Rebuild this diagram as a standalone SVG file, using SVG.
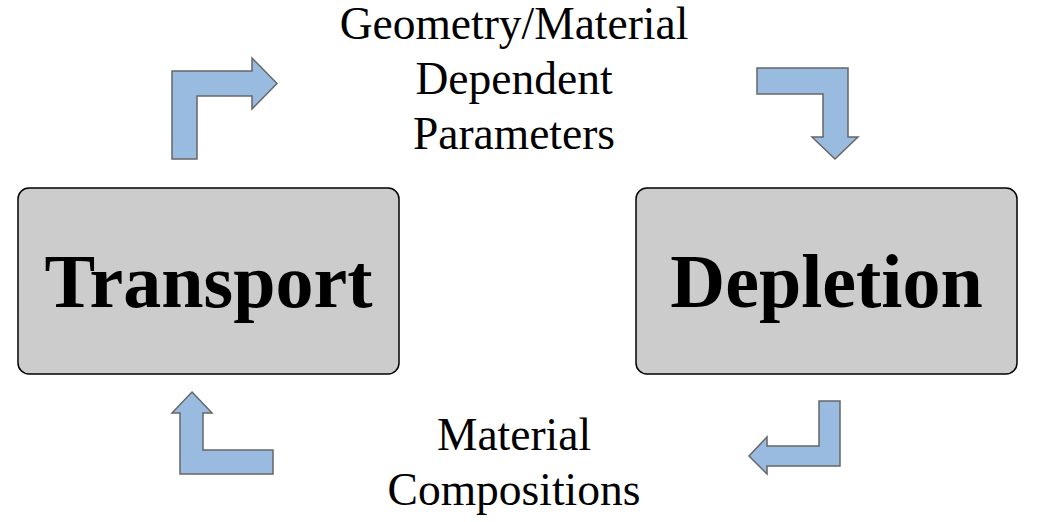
<svg xmlns="http://www.w3.org/2000/svg" width="1039" height="522" viewBox="0 0 1039 522">
<style>
.box{fill:#cccccc;stroke:#000;stroke-width:1.5}
.big{font-family:"Liberation Serif","Times New Roman",serif;font-weight:bold;font-size:76px;text-anchor:middle;fill:#000}
.lbl{font-family:"Liberation Serif","Times New Roman",serif;font-size:45.5px;text-anchor:middle;fill:#000}
.arr{fill:#99bbe0;stroke:#666;stroke-width:1.5;stroke-linejoin:miter}
</style>
<rect width="1039" height="522" fill="#fff"/>
<g id="transport">
<rect class="box" x="18" y="188" width="381" height="186" rx="11"/>
<text class="big" x="208.5" y="307">Transport</text>
</g>
<g id="depletion">
<rect class="box" x="636" y="188" width="381" height="186" rx="11"/>
<text class="big" x="826.5" y="307">Depletion</text>
</g>
<g id="connectors">
<polygon class="arr" points="172,159 172,71 252,71 252,58 277,83.5 252,109 252,96 197,96 197,159"/>
<polygon class="arr" points="757,68 848,68 848,137 858,137 835,159 812,137 823,137 823,94 757,94"/>
<polygon class="arr" points="819,401 840,401 840,466 767,466 767,474 749,456 767,437 767,446 819,446"/>
<polygon class="arr" points="192,392 212,413 203,413 203,450 273,450 273,474 180,474 180,413 172,413"/>
<text class="lbl" x="514" y="39">Geometry/Material</text>
<text class="lbl" x="514" y="94">Dependent</text>
<text class="lbl" x="514" y="148.5">Parameters</text>
<text class="lbl" x="514" y="450">Material</text>
<text class="lbl" x="514" y="505">Compositions</text>
</g>
</svg>
